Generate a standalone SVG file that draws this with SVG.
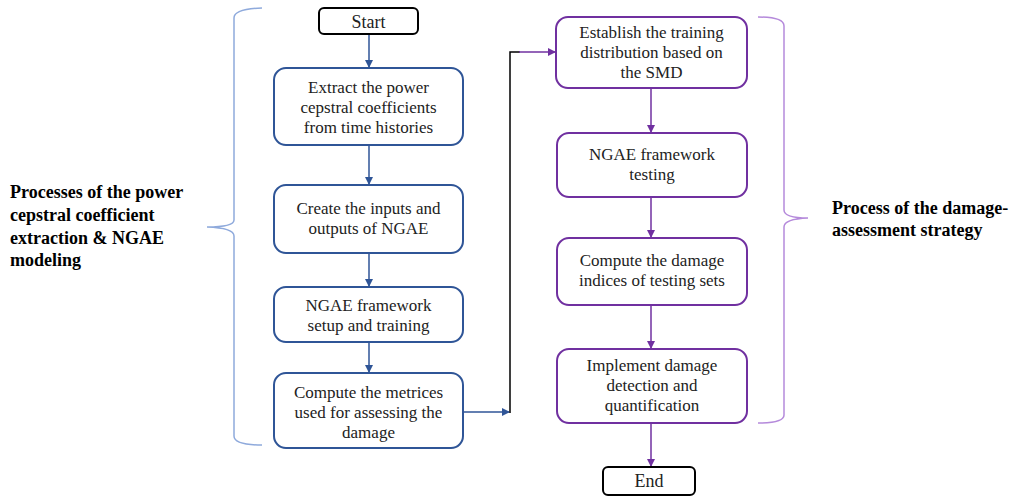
<svg xmlns="http://www.w3.org/2000/svg" width="1010" height="496" viewBox="0 0 1010 496">
<defs>
<style>
.bn{fill:#fff;stroke:#2F5597;stroke-width:2}
.pn{fill:#fff;stroke:#7030A0;stroke-width:2}
.kn{fill:#fff;stroke:#000;stroke-width:2}
.t{font-family:"Liberation Serif","Times New Roman",serif;font-size:17px;fill:#222;text-anchor:middle}
.tb{font-family:"Liberation Serif","Times New Roman",serif;font-size:18px;font-weight:bold;fill:#000}
.bl{stroke:#2F5597;stroke-width:1.5;fill:none}
.pl{stroke:#7030A0;stroke-width:1.5;fill:none}
.kl{stroke:#000;stroke-width:1.5;fill:none}
</style>
<marker id="ab" markerWidth="8" markerHeight="8" refX="7" refY="4" orient="auto" markerUnits="userSpaceOnUse"><path d="M0,0 L8,4 L0,8 z" fill="#2F5597"/></marker>
<marker id="ap" markerWidth="8" markerHeight="8" refX="7" refY="4" orient="auto" markerUnits="userSpaceOnUse"><path d="M0,0 L8,4 L0,8 z" fill="#7030A0"/></marker>
</defs>
<g id="braces">
<path d="M262,8 Q234,9 234,18 L234,220 Q234,227 207,227 Q234,228 234,236 L234,436 Q234,445 262,445" fill="none" stroke="#8FAADC" stroke-width="1.5"/>
<path d="M758,17 Q784,17 784,26 L784,210 Q784,218 808,218 Q784,219 784,227 L784,415 Q784,423 758,423" fill="none" stroke="#B58ADB" stroke-width="1.5"/>
</g>
<g id="connectors">
<line class="bl" x1="369" y1="34" x2="369" y2="67" marker-end="url(#ab)"/>
<line class="bl" x1="369" y1="145" x2="369" y2="184" marker-end="url(#ab)"/>
<line class="bl" x1="369" y1="253" x2="369" y2="286" marker-end="url(#ab)"/>
<line class="bl" x1="369" y1="342" x2="369" y2="372" marker-end="url(#ab)"/>
<line class="bl" x1="463" y1="412" x2="509" y2="412" marker-end="url(#ab)"/>
<polyline class="kl" points="510,413 510,52 520,52"/>
<line class="pl" x1="519" y1="52" x2="555" y2="52" marker-end="url(#ap)"/>
<line class="pl" x1="651" y1="88" x2="651" y2="132" marker-end="url(#ap)"/>
<line class="pl" x1="651" y1="197" x2="651" y2="237" marker-end="url(#ap)"/>
<line class="pl" x1="651" y1="305" x2="651" y2="348" marker-end="url(#ap)"/>
<line class="pl" x1="651" y1="423" x2="651" y2="466" marker-end="url(#ap)"/>
</g>
<g id="start"><rect class="kn" x="319" y="8" width="99" height="26" rx="5"/><text class="t" x="368.5" y="28" style="font-size:18px">Start</text></g>
<g id="n1"><rect class="bn" x="274" y="68" width="189" height="77" rx="12"/>
<text class="t" x="368.5" y="93">Extract the power</text><text class="t" x="368.5" y="113">cepstral coefficients</text><text class="t" x="368.5" y="133">from time histories</text></g>
<g id="n2"><rect class="bn" x="274" y="185" width="189" height="68" rx="12"/>
<text class="t" x="368.5" y="214">Create the inputs and</text><text class="t" x="368.5" y="234">outputs of NGAE</text></g>
<g id="n3"><rect class="bn" x="274" y="287" width="189" height="55" rx="12"/>
<text class="t" x="368.5" y="311">NGAE framework</text><text class="t" x="368.5" y="331">setup and training</text></g>
<g id="n4"><rect class="bn" x="274" y="373" width="189" height="75" rx="12"/>
<text class="t" x="368.5" y="398">Compute the metrices</text><text class="t" x="368.5" y="418">used for assessing the</text><text class="t" x="368.5" y="438">damage</text></g>
<g id="n5"><rect class="pn" x="556" y="17" width="191" height="71" rx="12"/>
<text class="t" x="651.5" y="38">Establish the training</text><text class="t" x="651.5" y="58">distribution based on</text><text class="t" x="651.5" y="78">the SMD</text></g>
<g id="n6"><rect class="pn" x="557" y="133" width="190" height="64" rx="12"/>
<text class="t" x="652" y="160">NGAE framework</text><text class="t" x="652" y="180">testing</text></g>
<g id="n7"><rect class="pn" x="557" y="238" width="190" height="67" rx="12"/>
<text class="t" x="652" y="266">Compute the damage</text><text class="t" x="652" y="286">indices of testing sets</text></g>
<g id="n8"><rect class="pn" x="557" y="349" width="190" height="74" rx="12"/>
<text class="t" x="652" y="371">Implement damage</text><text class="t" x="652" y="391">detection and</text><text class="t" x="652" y="411">quantification</text></g>
<g id="end"><rect class="kn" x="603" y="467" width="92" height="28" rx="5"/><text class="t" x="649" y="487" style="font-size:18px">End</text></g>
<g id="label-left">
<text class="tb" x="10" y="198">Processes of the power</text>
<text class="tb" x="10" y="221">cepstral coefficient</text>
<text class="tb" x="10" y="244">extraction &amp; NGAE</text>
<text class="tb" x="10" y="266">modeling</text>
</g>
<g id="label-right">
<text class="tb" x="832" y="214">Process of the damage-</text>
<text class="tb" x="832" y="236">assessment strategy</text>
</g>
</svg>
